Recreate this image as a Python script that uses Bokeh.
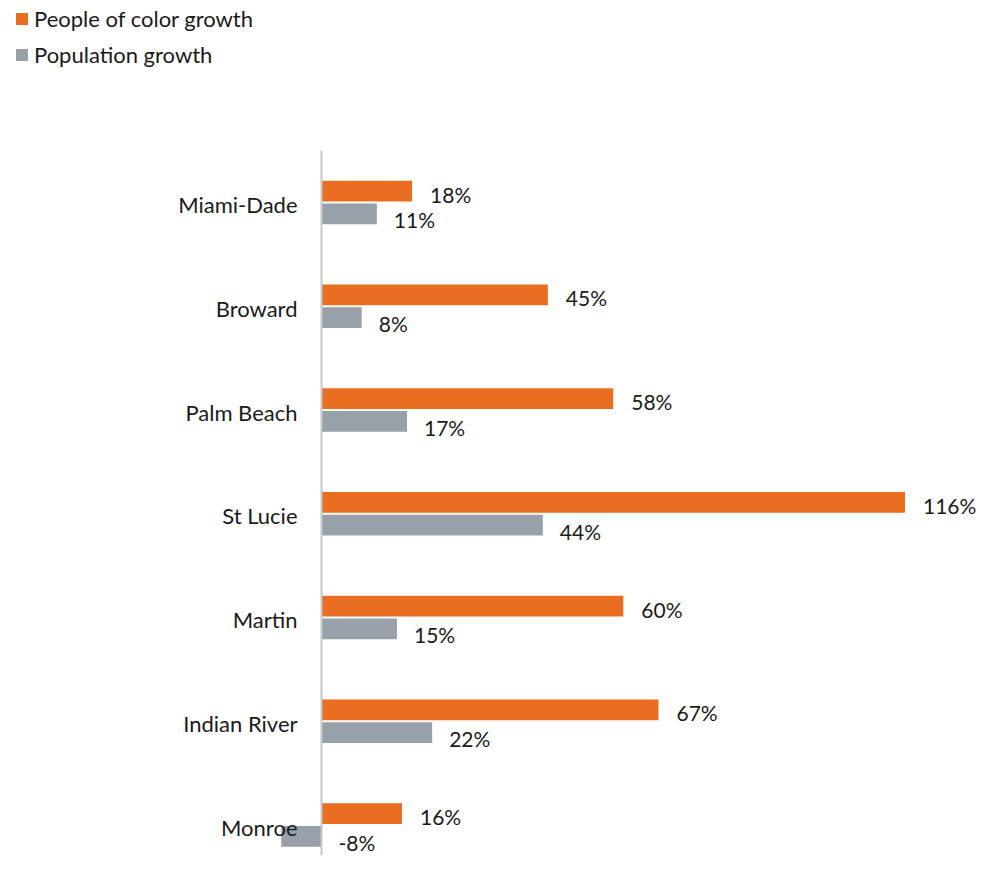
from bokeh.plotting import figure
from bokeh.models import ColumnDataSource, Range1d, Legend, LegendItem
from bokeh.core.properties import value
from bokeh.embed import file_html
from bokeh.resources import INLINE

counties = ["Miami-Dade", "Broward", "Palm Beach", "St Lucie", "Martin", "Indian River", "Monroe"]
poc_growth = [18, 45, 58, 116, 60, 67, 16]
pop_growth = [11, 8, 17, 44, 15, 22, -8]
series_names = ["People of color growth", "Population growth"]

ORANGE = "#E96E22"
GRAY = "#98A1A9"
TEXT = "#1a1a1a"
FONT = "Lato"
FS = "22px"
FS_VAL = "21px"

W, H = 981, 855
x0_px = 321.0          # screen x of the value 0
px_per_unit = 5.03     # pixels per percentage point
y0_px = 202.0          # screen y of first category centre
px_per_cat = 103.75

idx = list(range(len(counties)))
bar_h = 0.2
shift = 0.11

src_poc = ColumnDataSource(dict(
    y=[i - shift for i in idx], v=poc_growth,
    lx=[max(v, 0) for v in poc_growth],
    lab=[f"{v}%" for v in poc_growth]))
src_pop = ColumnDataSource(dict(
    y=[i + shift for i in idx], v=pop_growth,
    lx=[max(v, 0) for v in pop_growth],
    lab=[f"{v}%" for v in pop_growth]))
src_cat = ColumnDataSource(dict(y=idx, x=[0] * len(idx), name=counties))

x_start = -x0_px / px_per_unit
x_end = (W - x0_px) / px_per_unit
y_top = -y0_px / px_per_cat
y_bot = (H - y0_px) / px_per_cat

p = figure(width=W, height=H, output_backend="svg", toolbar_location=None,
           x_range=Range1d(x_start, x_end), y_range=Range1d(y_bot, y_top),
           x_axis_location=None, y_axis_location=None,
           min_border=0, min_border_left=0, min_border_right=0,
           min_border_top=0, min_border_bottom=0)
p.outline_line_color = None
p.xgrid.visible = False
p.ygrid.visible = False

r1 = p.hbar(y="y", left=0, right="v", height=bar_h, source=src_poc,
            fill_color=ORANGE, line_color=None)
r2 = p.hbar(y="y", left=0, right="v", height=bar_h, source=src_pop,
            fill_color=GRAY, line_color=None)

# vertical category axis line at value 0
p.segment(x0=0, y0=-0.5, x1=0, y1=y_bot, line_color="#C3C7CC", line_width=2)

p.text(x="lx", y="y", text="lab", source=src_poc, x_offset=18, y_offset=3,
       text_font=value(FONT), text_font_size=FS_VAL, text_color=TEXT,
       text_baseline="middle", text_align="left")
p.text(x="lx", y="y", text="lab", source=src_pop, x_offset=17, y_offset=6,
       text_font=value(FONT), text_font_size=FS_VAL, text_color=TEXT,
       text_baseline="middle", text_align="left")
p.text(x="x", y="y", text="name", source=src_cat, x_offset=-24, y_offset=2,
       text_font=value(FONT), text_font_size=FS, text_color=TEXT,
       text_baseline="middle", text_align="right")

legend = Legend(items=[LegendItem(label=series_names[0], renderers=[r1]),
                       LegendItem(label=series_names[1], renderers=[r2])],
                location=(14, 787), orientation="vertical",
                glyph_width=15, glyph_height=15, label_height=26,
                spacing=9, padding=0, margin=0, label_standoff=5,
                label_text_font=FONT, label_text_font_size=FS,
                label_text_color=TEXT, border_line_color=None,
                background_fill_alpha=0)
p.add_layout(legend)

open("out.html", "w").write(file_html(p, INLINE))
